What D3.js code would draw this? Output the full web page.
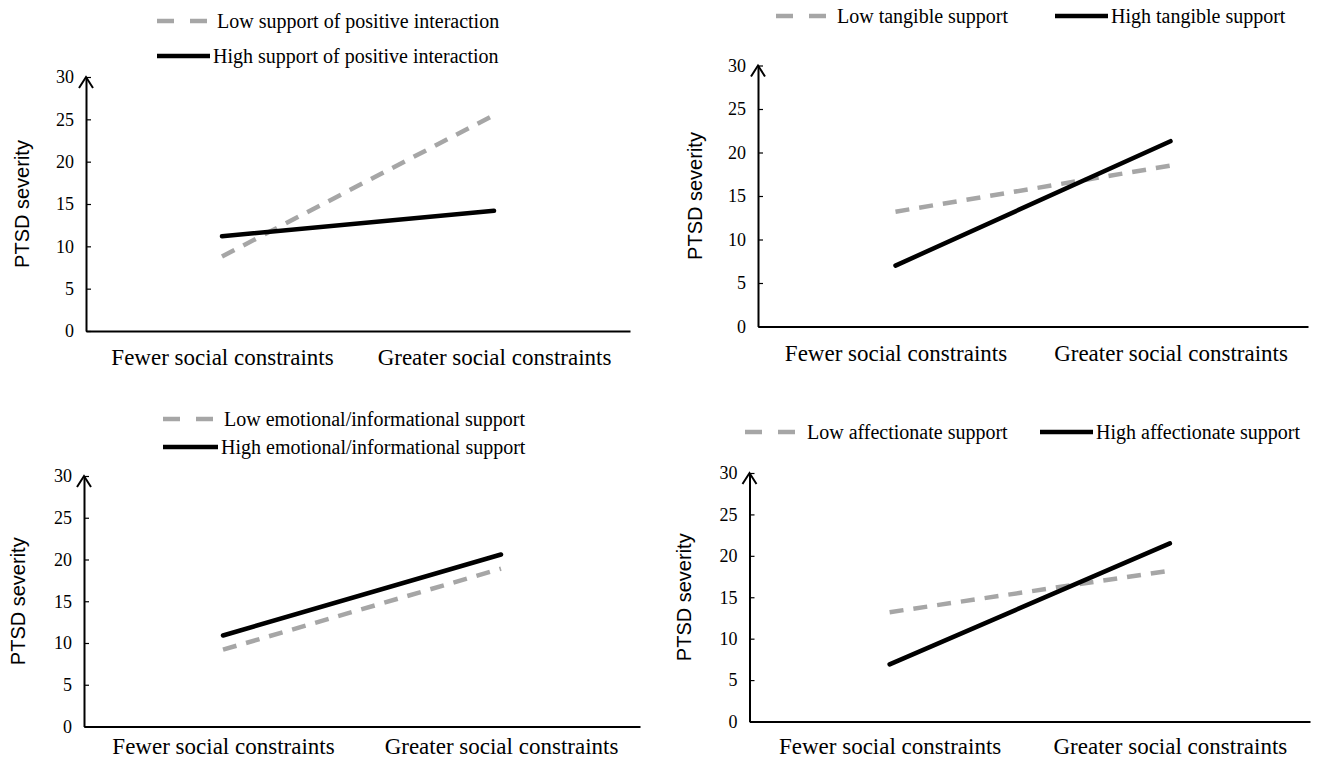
<!DOCTYPE html>
<html>
<head>
<meta charset="utf-8">
<script src="https://cdn.jsdelivr.net/npm/d3@7"></script>
<style>
  body { margin: 0; background: #fff; }
  svg { display: block; }
</style>
</head>
<body>
<svg width="1317" height="764"></svg>
<script>
const categories = ["Fewer social constraints", "Greater social constraints"];
const yTicks = [0, 5, 10, 15, 20, 25, 30];

const posLow = [8.8, 25.5], posHigh = [11.2, 14.2];
const tangLow = [13.2, 18.5], tangHigh = [7.0, 21.3];
const emoLow = [9.2, 18.9], emoHigh = [10.9, 20.6];
const affLow = [13.2, 18.2], affHigh = [6.9, 21.5];

const posLabels = ["Low support of positive interaction", "High support of positive interaction"];
const tangLabels = ["Low tangible support", "High tangible support"];
const emoLabels = ["Low emotional/informational support", "High emotional/informational support"];
const affLabels = ["Low affectionate support", "High affectionate support"];

const serif = "'Liberation Serif', 'Times New Roman', serif";
const sans = "'Liberation Sans', Arial, sans-serif";
const gray = "#a6a6a6";

let svg = d3.select("svg");

// each panel: plot box + legend spots
let panels = [
  {low: posLow, high: posHigh, labels: posLabels,
   x0: 86, x1: 630, yTop: 77, yBot: 331, titleX: 22, labelPad: 18,
   legend: [{x: 157, w: 50, tx: 217, y: 21}, {x: 157, w: 53, tx: 213, y: 56}]},
  {low: tangLow, high: tangHigh, labels: tangLabels,
   x0: 758, x1: 1308, yTop: 65.5, yBot: 326.5, titleX: 695, labelPad: 18,
   legend: [{x: 776, w: 52, tx: 837, y: 16}, {x: 1055, w: 53, tx: 1111, y: 16}]},
  {low: emoLow, high: emoHigh, labels: emoLabels,
   x0: 84, x1: 640, yTop: 476, yBot: 726.5, titleX: 18, labelPad: 11,
   legend: [{x: 163, w: 50, tx: 224, y: 419}, {x: 163, w: 55, tx: 221, y: 447}]},
  {low: affLow, high: affHigh, labels: affLabels,
   x0: 749.5, x1: 1310, yTop: 473, yBot: 721.5, titleX: 684, labelPad: 16,
   legend: [{x: 745, w: 52, tx: 807, y: 432}, {x: 1040, w: 53, tx: 1096, y: 432}]}
];

panels.forEach(function (p) {
  let g = svg.append("g");

  let x = d3.scalePoint().domain(categories).range([p.x0, p.x1]).padding(0.5);
  let y = d3.scaleLinear().domain([0, 30]).range([p.yBot, p.yTop]);

  // y axis, ticks point inward
  let yAx = g.append("g")
    .attr("transform", "translate(" + p.x0 + ",0)")
    .call(d3.axisLeft(y).tickValues(yTicks).tickSizeInner(-5).tickSizeOuter(0).tickPadding(12));
  yAx.select(".domain").attr("stroke", "#000").attr("stroke-width", 2);
  yAx.selectAll(".tick line").attr("stroke", "#000").attr("stroke-width", 1.2);
  yAx.selectAll("text").attr("font-family", serif).attr("font-size", 18).attr("fill", "#000");

  // arrow head on top of y axis
  g.append("path")
    .attr("d", "M" + (p.x0 - 7) + "," + (p.yTop + 11) + "L" + p.x0 + "," + p.yTop + "L" + (p.x0 + 7) + "," + (p.yTop + 11))
    .attr("fill", "none").attr("stroke", "#000").attr("stroke-width", 2);

  // x axis with category labels
  let xAx = g.append("g")
    .attr("transform", "translate(0," + p.yBot + ")")
    .call(d3.axisBottom(x).tickSize(0).tickPadding(p.labelPad));
  xAx.select(".domain").attr("stroke", "#000").attr("stroke-width", 2);
  xAx.selectAll("text").attr("font-family", serif).attr("font-size", 23).attr("fill", "#000");

  g.append("text")
    .attr("transform", "translate(" + p.titleX + "," + ((p.yTop + p.yBot) / 2) + ") rotate(-90)")
    .attr("text-anchor", "middle")
    .attr("dy", "0.35em")
    .attr("font-family", sans).attr("font-size", 20)
    .text("PTSD severity");

  let line = d3.line().x((d, i) => x(categories[i])).y(d => y(d));

  g.append("path").datum(p.low)
    .attr("d", line).attr("fill", "none")
    .attr("stroke", gray).attr("stroke-width", 4.5)
    .attr("stroke-dasharray", "14,10");
  g.append("path").datum(p.high)
    .attr("d", line).attr("fill", "none")
    .attr("stroke", "#000").attr("stroke-width", 4.5)
    .attr("stroke-linecap", "round");

  // legend
  p.legend.forEach(function (l, i) {
    let sample = g.append("line")
      .attr("x1", l.x).attr("x2", l.x + l.w)
      .attr("y1", l.y).attr("y2", l.y)
      .attr("stroke-width", 4.5);
    if (i === 0) {
      sample.attr("stroke", gray).attr("stroke-dasharray", "17,16");
    } else {
      sample.attr("stroke", "#000");
    }
    g.append("text")
      .attr("x", l.tx).attr("y", l.y)
      .attr("dy", "0.35em")
      .attr("font-family", serif).attr("font-size", 20)
      .text(p.labels[i]);
  });
});
</script>
</body>
</html>
